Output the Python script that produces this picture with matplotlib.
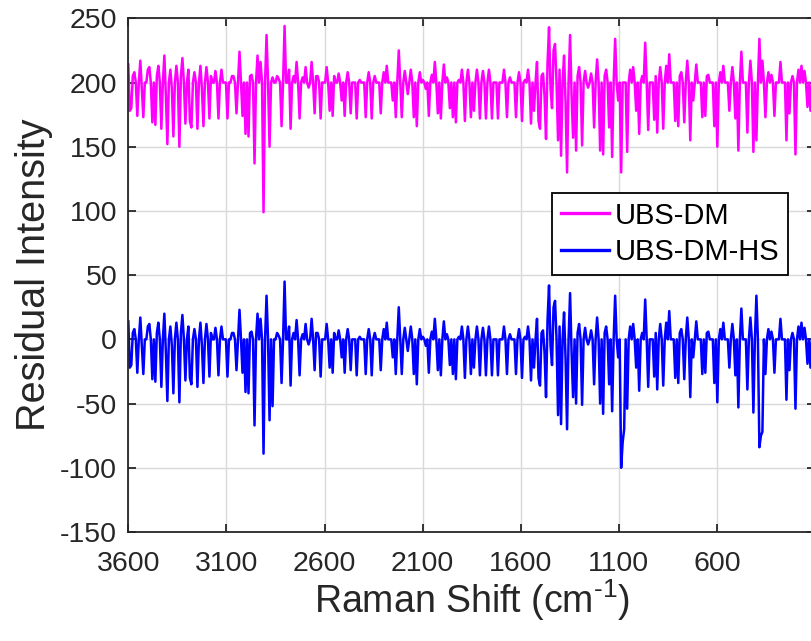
import numpy as np
import matplotlib
matplotlib.use("Agg")
import matplotlib.pyplot as plt

plt.rcParams['font.family'] = ['Liberation Sans', 'DejaVu Sans']
plt.rcParams['mathtext.fontset'] = 'custom'
plt.rcParams['mathtext.rm'] = 'Liberation Sans'
plt.rcParams['mathtext.it'] = 'Liberation Sans:italic'
plt.rcParams['axes.unicode_minus'] = False

# residual values, 3600 -> 100 cm-1, evenly spaced
ubs_dm = [
    214, 178, 180, 205, 208, 200, 174, 200, 217, 195, 173, 200, 200, 210, 212, 200,
    169, 200, 167, 205, 213, 200, 164, 200, 221, 190, 152, 200, 210, 195, 158, 200,
    213, 200, 150, 205, 219, 200, 168, 200, 210, 170, 165, 200, 208, 200, 164, 200,
    213, 195, 166, 200, 212, 200, 172, 205, 200, 200, 209, 200, 172, 200, 210, 200,
    200, 200, 172, 200, 200, 205, 205, 200, 176, 200, 224, 200, 174, 200, 160, 200,
    158, 205, 206, 200, 137, 200, 221, 200, 216, 200, 99, 200, 237, 200, 150, 200,
    204, 200, 200, 205, 203, 200, 166, 200, 244, 200, 200, 210, 164, 200, 205, 200,
    216, 200, 172, 200, 204, 200, 212, 200, 196, 200, 216, 200, 176, 205, 205, 200,
    172, 200, 200, 200, 212, 200, 178, 200, 174, 205, 200, 200, 207, 200, 186, 200,
    174, 200, 208, 200,
    176, 200, 200, 200, 172, 200, 202, 200, 200, 200, 173, 200, 208, 200, 172, 200,
    205, 200, 200, 200, 176, 200, 208, 200, 213, 200, 200, 200, 186, 200, 173, 200,
    225, 200, 173, 200, 209, 200, 191, 200, 210, 200, 173, 200, 166, 200, 208, 200,
    202, 200, 195, 200, 174, 200, 206, 200, 216, 200, 176, 200, 172, 200, 214, 200,
    204, 200, 180, 200, 173, 200, 169, 200, 202, 200, 210, 200, 170, 200, 210, 200,
    173, 200, 178, 200, 210, 200, 172, 200, 209, 200, 172, 200, 210, 200, 172, 200,
    200, 200, 172, 200, 200, 200, 210, 200, 173, 200, 204, 200, 200, 200, 173, 200,
    208, 200, 170, 200, 202, 200, 210, 200, 168, 200, 178, 200, 216, 170, 164, 205,
    207, 190, 156, 215, 243, 195, 180, 225, 230, 200, 155, 210, 143, 200, 221, 185,
    130, 200, 237, 190, 157, 200, 147, 205, 212, 200,
    151, 200, 209, 200, 196, 200, 207, 200, 165, 200, 218, 200, 147, 200, 144, 205,
    210, 200, 165, 200, 142, 200, 234, 200, 186, 200, 130, 200, 200, 200, 146, 200,
    210, 200, 212, 200, 178, 200, 160, 200, 205, 200, 231, 200, 163, 200, 200, 200,
    171, 205, 161, 200, 212, 200, 164, 200, 213, 200, 222, 200, 200, 200, 170, 200,
    166, 205, 208, 200, 169, 200, 217, 200, 155, 200, 186, 200, 214, 200, 200, 200,
    173, 200, 174, 205, 206, 200, 200, 200, 166, 200, 150, 200, 208, 200, 213, 200,
    200, 200, 178, 200, 212, 200, 172, 200, 147, 200, 224, 200, 200, 200, 161, 200,
    217, 200, 146, 200, 155, 200, 234, 200, 217, 200, 173, 200, 208, 200, 206, 200,
    174, 200, 200, 200, 216, 200, 200, 200, 155, 200, 176, 200, 205, 200, 144, 200,
    210, 200, 213, 200, 209, 200, 181, 200, 178, 200, 205, 200]

ubs_dm_hs = [
    14, -22, -20, 5, 8, 0, -26, 0, 17, -5, -27, 0, 0, 10, 12, 0,
    -31, 0, -33, 5, 13, 0, -37, 0, 20, -10, -48, 0, 10, -5, -42, 0,
    13, 0, -49, 5, 19, 0, -32, 0, 10, -30, -35, 0, 8, 0, -37, 0,
    13, -5, -34, 0, 12, 0, -29, 5, 0, 0, 9, 0, -28, 0, 10, 0,
    0, 0, -29, 0, 0, 5, 5, 0, -24, 0, 23, 0, -26, 0, -41, 0,
    -42, 5, 6, 0, -67, 0, 20, 0, 16, 0, -89, 0, 34, 0, -63, 0,
    -52, 0, 0, 5, 3, 0, -34, 0, 45, 0, 0, 10, -36, 0, 5, 0,
    15, 0, -28, 0, 4, 0, 12, 0, -4, 0, 16, 0, -24, 5, 5, 0,
    -29, 0, 0, 0, 12, 0, -22, 0, -26, 5, 0, 0, 7, 0, -14, 0,
    -26, 0, 8, 0,
    -24, 0, 0, 0, -28, 0, 2, 0, 0, 0, -27, 0, 8, 0, -28, 0,
    5, 0, 0, 0, -24, 0, 8, 0, 13, 0, 0, 0, -14, 0, -27, 0,
    25, 0, -27, 0, 9, 0, -9, 0, 10, 0, -27, 0, -35, 0, 8, 0,
    2, 0, -5, 0, -26, 0, 6, 0, 16, 0, -24, 0, -28, 0, 14, 0,
    4, 0, -20, 0, -27, 0, -31, 0, 2, 0, 10, 0, -30, 0, 10, 0,
    -27, 0, -22, 0, 10, 0, -28, 0, 9, 0, -28, 0, 10, 0, -28, 0,
    0, 0, -28, 0, 0, 0, 10, 0, -27, 0, 4, 0, 0, 0, -27, 0,
    8, 0, -30, 0, 2, 0, 10, 0, -32, 0, -22, 0, 16, -30, -36, 5,
    7, -10, -45, 15, 42, -5, -20, 25, 30, 0, -59, 10, -66, 0, 21, -15,
    -70, 0, 36, -10, -45, 0, -50, 5, 12, 0,
    -51, 0, 9, 0, -4, 0, 7, 0, -35, 0, 17, 0, -50, 0, -58, 5,
    10, 0, -35, 0, -56, 0, 34, 0, -14, 0, -100, -80, -70, 0, -54, 0,
    10, 0, 12, 0, -22, 0, -40, 0, 5, 0, 31, 0, -37, 0, 0, 0,
    -29, 5, -39, 0, 12, 0, -36, 0, 13, 0, 22, 0, 0, 0, -30, 0,
    -34, 5, 8, 0, -31, 0, 17, 0, -45, 0, -14, 0, 14, 0, 0, 0,
    -27, 0, -26, 5, 6, 0, 0, 0, -34, 0, -49, 0, 8, 0, 13, 0,
    0, 0, -22, 0, 12, 0, -28, 0, -53, 0, 24, 0, 0, 0, -39, 0,
    17, 0, -57, 0, 34, 0, -84, -75, -72, 0, -27, 0, 8, 0, 6, 0,
    -26, 0, 0, 0, 16, 0, 0, 0, -47, 0, -24, 0, 5, 0, -54, 0,
    10, 0, 13, 0, 9, 0, -19, 0, -22, 0, 5, 0]

shift = np.linspace(3600, 100, len(ubs_dm))

xticks = [3600, 3100, 2600, 2100, 1600, 1100, 600]
yticks = [-150, -100, -50, 0, 50, 100, 150, 200, 250]

txt = '#262626'

fig = plt.figure(figsize=(8.12, 6.41), dpi=100)
ax = fig.add_axes([128.3/812, 109/641, (815-128.3)/812, (532-18.3)/641])

ax.plot(shift, ubs_dm, color='#ff00ff', lw=1.8, label='UBS-DM')
ax.plot(shift, ubs_dm_hs, color='#0000ff', lw=1.8, label='UBS-DM-HS')

ax.set_xlim(3600, 100)
ax.set_ylim(-150, 250)
ax.set_xticks(xticks)
ax.set_yticks(yticks)
ax.grid(True, color='#d9d9d9', lw=1.0)
ax.set_axisbelow(True)

for s in ax.spines.values():
    s.set_color(txt)
    s.set_linewidth(1.3)
ax.tick_params(direction='in', length=5.5, width=1.3, color=txt, labelcolor=txt,
               labelsize=20.5, top=True, right=True)
ax.tick_params(axis='x', pad=14)
ax.tick_params(axis='y', pad=8)

ax.set_xlabel('Raman Shift (cm$^{\\mathrm{\u2010}1}$)', fontsize=27, color=txt, labelpad=0)
ax.set_ylabel('Residual Intensity', fontsize=28.5, color=txt, labelpad=5)

leg = ax.legend(loc='upper right', bbox_to_anchor=(0.9607, 0.66), borderaxespad=0,
                fontsize=21, fancybox=False, framealpha=1, edgecolor='#000000',
                handlelength=1.65, handletextpad=0.2, borderpad=0.3, labelspacing=0.3)
leg.get_frame().set_linewidth(1.3)
for line in leg.get_lines():
    line.set_linewidth(2.4)
for t in leg.get_texts():
    t.set_color('#000000')

fig.savefig('out.png', dpi=100)
